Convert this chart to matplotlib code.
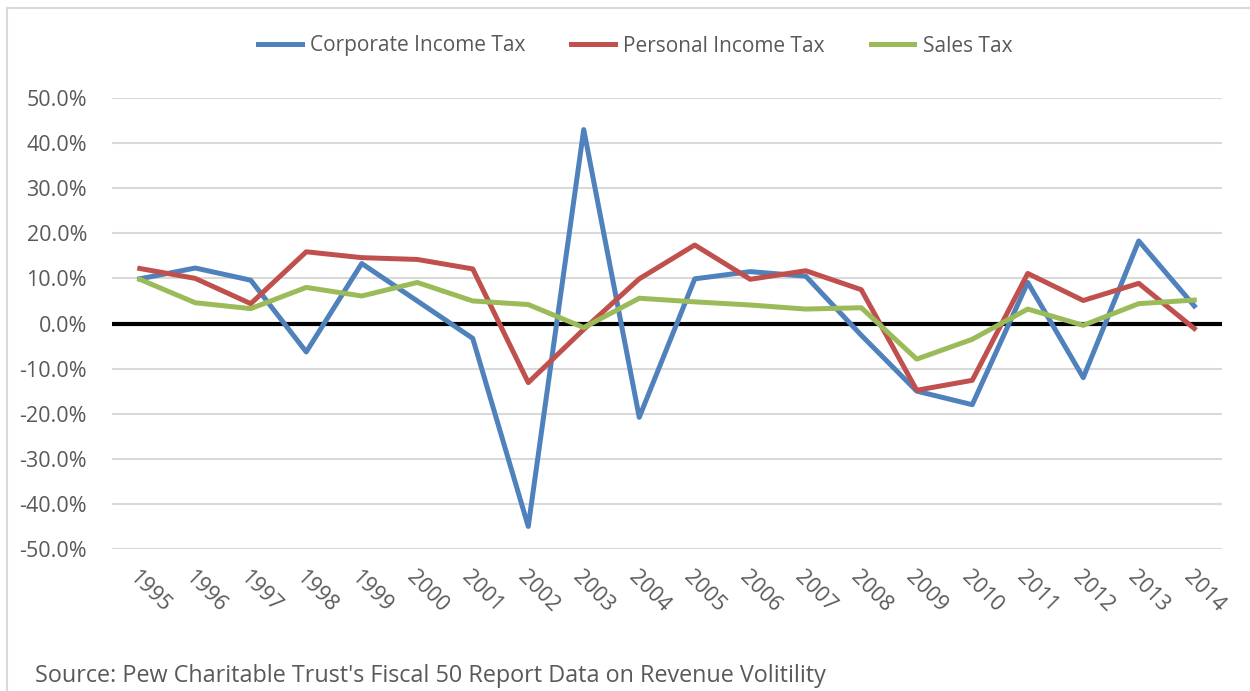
import matplotlib
matplotlib.use("Agg")
import matplotlib.pyplot as plt
from matplotlib.patches import Rectangle
from matplotlib.ticker import FuncFormatter

years = [str(y) for y in range(1995, 2015)]
corporate = [9.9, 12.3, 9.6, -6.3, 13.3, 5.0, -3.3, -45.0, 43.0, -20.8,
             9.9, 11.5, 10.5, -2.6, -15.0, -18.0, 9.1, -12.0, 18.3, 3.9]
personal = [12.2, 10.0, 4.4, 15.9, 14.6, 14.2, 12.1, -13.1, -1.3, 9.9,
            17.4, 9.8, 11.7, 7.5, -14.8, -12.6, 11.1, 5.1, 8.9, -1.1]
sales = [9.8, 4.6, 3.3, 8.0, 6.1, 9.1, 5.0, 4.2, -0.9, 5.6,
         4.8, 4.1, 3.2, 3.5, -7.9, -3.5, 3.2, -0.4, 4.4, 5.2]
yticks = [50, 40, 30, 20, 10, 0, -10, -20, -30, -40, -50]

plt.rcParams['font.family'] = ['Open Sans', 'DejaVu Sans']
txt = '#595959'

fig = plt.figure(figsize=(12.5, 6.91), dpi=100)
fig.patches.append(Rectangle((7 / 1250, -0.1), 1.2, 1 - 8 / 691 + 0.1,
                             transform=fig.transFigure, fill=False,
                             edgecolor='#d9d9d9', lw=1.5))
ax = fig.add_axes([112 / 1250, 1 - 549 / 691, 1110 / 1250, 451 / 691])

x = list(range(len(years)))
ax.plot(x, corporate, color='#4f81bd', lw=3.6, label='Corporate Income Tax', solid_joinstyle='round', zorder=4)
ax.plot(x, personal, color='#c0504d', lw=3.6, label='Personal Income Tax', solid_joinstyle='round', zorder=4)
ax.plot(x, sales, color='#9bbb59', lw=3.6, label='Sales Tax', solid_joinstyle='round', zorder=4)
ax.axhline(0, color='black', lw=3, zorder=3)

ax.set_xlim(-0.5, len(years) - 0.5)
ax.set_ylim(-50, 50)
ax.set_yticks(yticks)
ax.yaxis.set_major_formatter(FuncFormatter(lambda v, p: f'{v:.1f}%'))
ax.grid(axis='y', color='#d9d9d9', lw=1.5)
ax.set_axisbelow(True)
for s in ax.spines.values():
    s.set_visible(False)
ax.tick_params(axis='both', length=0, labelsize=15.5, colors=txt)
ax.tick_params(axis='y', pad=18)
ax.set_xticks(x)
ax.set_xticklabels(years, rotation=-45, ha='left', va='top', rotation_mode='anchor')
ax.tick_params(axis='x', pad=13)

leg = fig.legend(loc='center', bbox_to_anchor=(0.5 + 10 / 1250, 1 - 46 / 691), ncol=3, frameon=False,
                 fontsize=15, handlelength=2.1, columnspacing=2.2, handletextpad=0.4)
for t in leg.get_texts():
    t.set_color(txt)

fig.text(35 / 1250, 1 - 676 / 691, "Source: Pew Charitable Trust's Fiscal 50 Report Data on Revenue Volitility",
         fontsize=16.8, color=txt, ha='left', va='center')

fig.savefig('out.png', dpi=100)
